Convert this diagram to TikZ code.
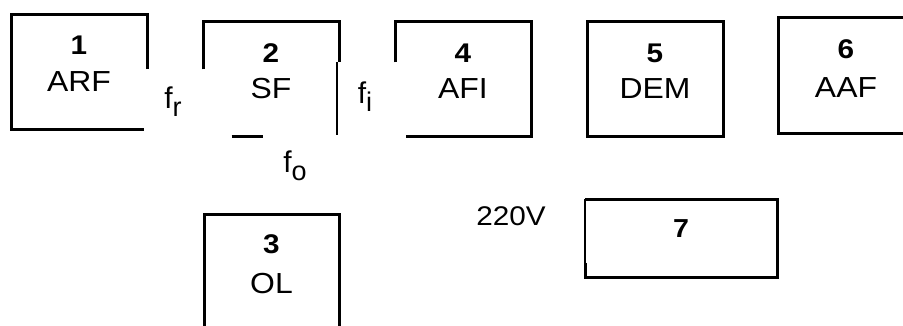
\documentclass[tikz,border=0pt]{standalone}
\usepackage{fontspec}
\setmainfont{Liberation Sans}
\usepackage{tikz}
\usetikzlibrary{calc,positioning}
\newcommand{\widetext}[1]{\scalebox{1.1}[1]{#1}}

\begin{document}
\begin{tikzpicture}[
    x=1pt,y=-1pt,
    blockbox/.style={minimum width=136pt,minimum height=115pt,inner sep=0pt,outer sep=0pt},
    boxline/.style={line width=3pt},
    hairline/.style={line width=1.2pt},
    numtext/.style={anchor=base,inner sep=0pt,font=\fontsize{27}{32}\selectfont\bfseries},
    nametext/.style={anchor=base,inner sep=0pt,font=\fontsize{29}{34}\selectfont},
    sigtext/.style={anchor=base,inner sep=0pt,font=\fontsize{30}{34}\selectfont}
  ]
    \useasboundingbox (0,0) rectangle (903,325);
    \clip (0,0) rectangle (903,325);

    % blocks
    \node[blockbox] (b1) at (79,71.5) {};
    \node[blockbox] (b2) at (271,78.5) {};
    \node[blockbox,draw,boxline,minimum width=135pt] (b3) at (271.5,271.5) {};
    \node[blockbox] (b4) at (463,78.5) {};
    \node[blockbox,draw,boxline] (b5) at (655,78.5) {};
    \node[blockbox,draw,boxline,minimum height=116pt] (b6) at (846,75) {};
    \node[blockbox,minimum width=192pt,minimum height=78pt] (b7) at (681,238) {};

    % open frames
    \draw[boxline] ($(b1.north east)!.48!(b1.south east)$) -- (b1.north east) -- (b1.north west)
      -- (b1.south west) -- ($(b1.south west)!.98!(b1.south east)$);
    \draw[boxline] ($(b2.south west)!.58!(b2.north west)$) -- (b2.north west) -- (b2.north east)
      -- ($(b2.north east)!.36!(b2.south east)$) coordinate (b2r);
    \draw[hairline] ([xshift=-2pt]b2r) -- ([xshift=-2pt,yshift=1pt]b2.south east);
    \draw[boxline] ($(b2.south west)!.21!(b2.south east)$) -- ($(b2.south west)!.44!(b2.south east)$);
    \draw[boxline] ($(b4.north west)!.36!(b4.south west)$) -- (b4.north west) -- (b4.north east)
      -- (b4.south east) -- ($(b4.south west)!.08!(b4.south east)$);
    \draw[boxline] ($(b7.south west)!.18!(b7.north west)$) -- (b7.south west) -- (b7.south east)
      -- (b7.north east) -- (b7.north west);
    \draw[hairline] (b7.north west) -- ($(b7.south west)!.18!(b7.north west)$);

    % block texts
    \node[numtext] (n1) at ([yshift=-40pt]b1.north) {\widetext{1}};
    \node[nametext] (t1) at ([yshift=-77pt]b1.north) {\widetext{ARF}};
    \node[numtext] (n2) at ([yshift=-41pt]b2.north) {\widetext{2}};
    \node[nametext] (t2) at ([yshift=-77pt]b2.north) {\widetext{SF}};
    \node[numtext] (n3) at ([yshift=-39pt]b3.north) {\widetext{3}};
    \node[nametext] (t3) at ([yshift=-79pt]b3.north) {\widetext{OL}};
    \node[numtext] (n4) at ([yshift=-41pt]b4.north) {\widetext{4}};
    \node[nametext] (t4) at ([yshift=-77pt]b4.north) {\widetext{AFI}};
    \node[numtext] (n5) at ([yshift=-41pt]b5.north) {\widetext{5}};
    \node[nametext] (t5) at ([yshift=-77pt]b5.north) {\widetext{DEM}};
    \node[numtext] (n6) at ([yshift=-41pt]b6.north) {\widetext{6}};
    \node[nametext] (t6) at ([yshift=-80pt]b6.north) {\widetext{AAF}};
    \node[numtext,font=\fontsize{26}{30}\selectfont\bfseries] (n7) at ([yshift=-38pt]b7.north) {\widetext{7}};

    % signals
    \node[sigtext] (fr) at (173,108) {f\raisebox{-8pt}{\fontsize{27}{30}\selectfont r}};
    \node[sigtext] (fi) at (365,103) {f\raisebox{-8pt}{\fontsize{27}{30}\selectfont i}};
    \node[sigtext] (fo) at (295,172) {f\raisebox{-8pt}{\fontsize{27}{30}\selectfont o}};
    \node[sigtext,font=\fontsize{27}{32}\selectfont] (mains) at (511,225) {\widetext{220V}};
\end{tikzpicture}
\end{document}
